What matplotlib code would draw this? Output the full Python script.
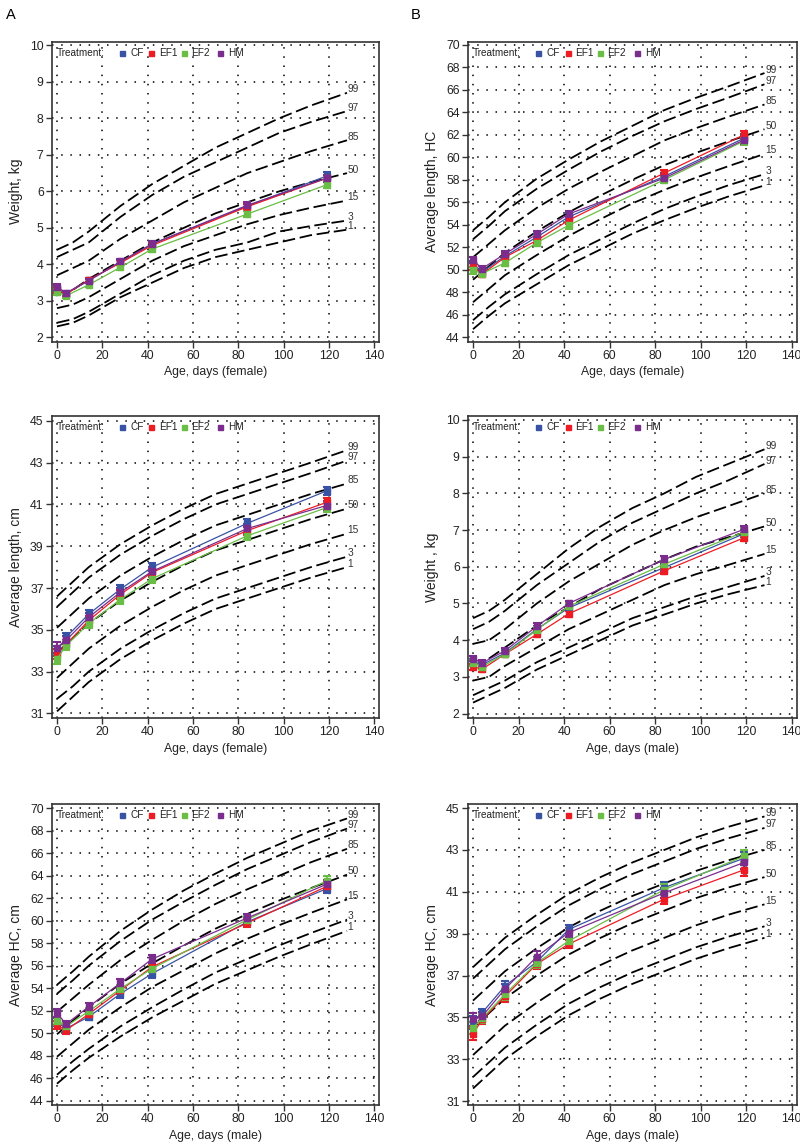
import matplotlib
matplotlib.use("Agg")
import matplotlib.pyplot as plt

plt.rcParams['font.family'] = ['Liberation Sans', 'DejaVu Sans']

# ---------------- data ----------------
days = [0, 4, 14, 28, 42, 84, 119]
treatments = ["CF", "EF1", "EF2", "HM"]
colors = {"CF": "#3953A4", "EF1": "#ED1C24", "EF2": "#6ABD45", "HM": "#7B2D8E"}

pct_ages = [0, 7, 14, 28, 42, 56, 70, 84, 98, 112, 128]
pct_labels = ["99", "97", "85", "50", "15", "3", "1"]

# Panel A1: weight, female
a1_CF = [3.33, 3.20, 3.56, 4.06, 4.56, 5.60, 6.42]
a1_EF1 = [3.30, 3.18, 3.58, 4.04, 4.52, 5.58, 6.36]
a1_EF2 = [3.24, 3.14, 3.44, 3.92, 4.42, 5.38, 6.18]
a1_HM = [3.38, 3.22, 3.55, 4.08, 4.56, 5.62, 6.36]
a1_err = [0.08, 0.06, 0.06, 0.07, 0.07, 0.08, 0.10]
a1_p99 = [4.4, 4.6, 4.9, 5.6, 6.2, 6.7, 7.2, 7.6, 8.0, 8.35, 8.7]
a1_p97 = [4.2, 4.4, 4.6, 5.3, 5.9, 6.4, 6.8, 7.2, 7.6, 7.9, 8.2]
a1_p85 = [3.7, 3.9, 4.1, 4.7, 5.2, 5.7, 6.1, 6.5, 6.8, 7.1, 7.4]
a1_p50 = [3.2, 3.3, 3.6, 4.1, 4.6, 5.0, 5.4, 5.7, 6.0, 6.25, 6.5]
a1_p15 = [2.8, 2.9, 3.1, 3.6, 4.1, 4.5, 4.8, 5.1, 5.35, 5.55, 5.75]
a1_p3 = [2.4, 2.5, 2.7, 3.2, 3.7, 4.1, 4.4, 4.6, 4.9, 5.05, 5.2]
a1_p1 = [2.3, 2.4, 2.6, 3.1, 3.5, 3.9, 4.2, 4.4, 4.6, 4.8, 4.95]

# Panel B1: length, female
b1_CF = [50.5, 49.8, 51.2, 52.9, 54.7, 58.3, 61.7]
b1_EF1 = [50.3, 49.6, 51.1, 52.6, 54.4, 58.6, 62.0]
b1_EF2 = [49.95, 49.65, 50.6, 52.4, 53.95, 58.0, 61.45]
b1_HM = [50.85, 50.1, 51.4, 53.15, 54.95, 58.15, 61.55]
b1_err = [0.3, 0.25, 0.25, 0.25, 0.3, 0.3, 0.35]
b1_p99 = [53.5, 54.7, 56.0, 58.1, 59.8, 61.4, 62.8, 64.2, 65.3, 66.3, 67.5]
b1_p97 = [52.7, 53.9, 55.2, 57.2, 58.9, 60.5, 61.9, 63.2, 64.3, 65.3, 66.5]
b1_p85 = [51.1, 52.3, 53.5, 55.5, 57.2, 58.7, 60.1, 61.5, 62.6, 63.6, 64.7]
b1_p50 = [49.1, 50.3, 51.5, 53.4, 55.1, 56.6, 58.0, 59.3, 60.4, 61.4, 62.5]
b1_p15 = [47.1, 48.3, 49.5, 51.3, 53.0, 54.5, 55.9, 57.1, 58.2, 59.2, 60.3]
b1_p3 = [45.5, 46.7, 47.8, 49.6, 51.3, 52.7, 54.1, 55.4, 56.5, 57.5, 58.5]
b1_p1 = [44.7, 45.9, 47.0, 48.7, 50.4, 51.8, 53.2, 54.4, 55.5, 56.5, 57.5]

# Panel A2: head circumference scale, female
a2_CF = [34.0, 34.65, 35.75, 36.95, 38.0, 40.1, 41.65]
a2_EF1 = [33.85, 34.3, 35.45, 36.7, 37.75, 39.75, 41.1]
a2_EF2 = [33.6, 34.25, 35.3, 36.45, 37.45, 39.5, 40.85]
a2_HM = [34.15, 34.5, 35.6, 36.8, 37.8, 39.85, 40.95]
a2_err = [0.25, 0.2, 0.2, 0.2, 0.2, 0.2, 0.2]
a2_p99 = [36.6, 37.3, 38.0, 39.1, 40.0, 40.8, 41.5, 42.0, 42.5, 43.0, 43.6]
a2_p97 = [36.1, 36.8, 37.5, 38.6, 39.5, 40.3, 41.0, 41.5, 42.0, 42.5, 43.1]
a2_p85 = [35.1, 35.8, 36.5, 37.6, 38.5, 39.3, 40.0, 40.5, 41.0, 41.5, 42.0]
a2_p50 = [33.9, 34.6, 35.3, 36.4, 37.3, 38.1, 38.8, 39.3, 39.8, 40.3, 40.8]
a2_p15 = [32.7, 33.4, 34.1, 35.2, 36.1, 36.9, 37.6, 38.1, 38.6, 39.1, 39.6]
a2_p3 = [31.7, 32.3, 33.0, 34.1, 35.0, 35.8, 36.5, 37.0, 37.5, 38.0, 38.5]
a2_p1 = [31.1, 31.8, 32.5, 33.6, 34.5, 35.3, 36.0, 36.5, 37.0, 37.5, 38.0]

# Panel B2: weight, male
b2_CF = [3.40, 3.33, 3.65, 4.30, 4.88, 5.98, 6.90]
b2_EF1 = [3.28, 3.21, 3.62, 4.16, 4.72, 5.89, 6.79]
b2_EF2 = [3.39, 3.28, 3.62, 4.28, 4.92, 6.07, 6.95]
b2_HM = [3.50, 3.38, 3.71, 4.38, 5.00, 6.20, 7.02]
b2_err = [0.08, 0.07, 0.07, 0.08, 0.08, 0.10, 0.10]
b2_p99 = [4.6, 4.8, 5.1, 5.8, 6.5, 7.1, 7.6, 8.0, 8.45, 8.8, 9.2]
b2_p97 = [4.3, 4.5, 4.8, 5.5, 6.1, 6.7, 7.2, 7.6, 8.0, 8.35, 8.8]
b2_p85 = [3.9, 4.0, 4.3, 5.0, 5.6, 6.1, 6.6, 7.0, 7.35, 7.65, 8.0]
b2_p50 = [3.3, 3.5, 3.8, 4.4, 4.9, 5.4, 5.8, 6.2, 6.55, 6.8, 7.1]
b2_p15 = [2.9, 3.0, 3.3, 3.8, 4.3, 4.7, 5.1, 5.5, 5.8, 6.05, 6.35]
b2_p3 = [2.5, 2.7, 2.9, 3.4, 3.8, 4.2, 4.6, 4.9, 5.2, 5.45, 5.75]
b2_p1 = [2.3, 2.5, 2.7, 3.2, 3.6, 4.0, 4.4, 4.7, 5.0, 5.25, 5.5]

# Panel A3: 44-70 scale, male
a3_CF = [51.0, 50.4, 51.45, 53.5, 55.3, 59.9, 62.85]
a3_EF1 = [50.7, 50.25, 51.7, 53.8, 55.9, 59.8, 63.05]
a3_EF2 = [51.1, 50.6, 51.95, 53.95, 55.75, 60.1, 63.55]
a3_HM = [51.8, 50.8, 52.35, 54.45, 56.6, 60.25, 63.25]
a3_err = [0.35, 0.3, 0.3, 0.35, 0.35, 0.35, 0.4]
a3_p99 = [54.3, 55.5, 56.8, 59.1, 61.0, 62.7, 64.2, 65.6, 66.8, 68.0, 69.1]
a3_p97 = [53.5, 54.7, 56.0, 58.2, 60.1, 61.7, 63.2, 64.6, 65.8, 67.0, 68.2]
a3_p85 = [51.9, 53.1, 54.3, 56.5, 58.3, 60.0, 61.5, 62.8, 64.0, 65.2, 66.4]
a3_p50 = [49.9, 51.1, 52.3, 54.4, 56.2, 57.8, 59.3, 60.6, 61.8, 62.9, 64.1]
a3_p15 = [47.9, 49.1, 50.3, 52.3, 54.1, 55.6, 57.1, 58.4, 59.6, 60.7, 61.9]
a3_p3 = [46.3, 47.5, 48.6, 50.6, 52.3, 53.9, 55.4, 56.6, 57.8, 58.9, 60.1]
a3_p1 = [45.5, 46.7, 47.8, 49.7, 51.4, 52.9, 54.4, 55.6, 56.8, 57.9, 59.1]

# Panel B3: HC, male
b3_CF = [34.75, 35.22, 36.5, 37.65, 39.2, 41.2, 42.6]
b3_EF1 = [34.2, 34.9, 36.0, 37.55, 38.5, 40.65, 42.05]
b3_EF2 = [34.5, 34.95, 36.1, 37.6, 38.65, 41.1, 42.7]
b3_HM = [34.9, 35.05, 36.35, 37.9, 39.05, 40.95, 42.4]
b3_err = [0.3, 0.2, 0.25, 0.25, 0.2, 0.25, 0.3]
b3_p99 = [37.4, 38.1, 38.8, 39.9, 40.9, 41.7, 42.4, 43.0, 43.6, 44.1, 44.6]
b3_p97 = [36.85, 37.55, 38.25, 39.35, 40.35, 41.15, 41.85, 42.45, 43.05, 43.55, 44.05]
b3_p85 = [35.8, 36.5, 37.2, 38.3, 39.3, 40.1, 40.8, 41.4, 42.0, 42.5, 43.0]
b3_p50 = [34.5, 35.2, 35.9, 37.0, 38.0, 38.8, 39.5, 40.1, 40.7, 41.2, 41.7]
b3_p15 = [33.2, 33.9, 34.6, 35.7, 36.7, 37.5, 38.2, 38.8, 39.4, 39.9, 40.4]
b3_p3 = [32.15, 32.85, 33.55, 34.65, 35.65, 36.45, 37.15, 37.75, 38.35, 38.85, 39.35]
b3_p1 = [31.6, 32.3, 33.0, 34.1, 35.1, 35.9, 36.6, 37.2, 37.8, 38.3, 38.8]

panels = [
    dict(pos=[0.065, 0.701, 0.409, 0.2625], ylim=(1.88, 10.1), yticks=range(2, 11, 1),
         ylabel="Weight, kg", xlabel="Age, days (female)",
         series=[a1_CF, a1_EF1, a1_EF2, a1_HM], err=a1_err,
         pcts=[a1_p99, a1_p97, a1_p85, a1_p50, a1_p15, a1_p3, a1_p1]),
    dict(pos=[0.585, 0.701, 0.411, 0.2625], ylim=(43.58, 70.29), yticks=range(44, 71, 2),
         ylabel="Average length, HC", xlabel="Age, days (female)",
         series=[b1_CF, b1_EF1, b1_EF2, b1_HM], err=b1_err,
         pcts=[b1_p99, b1_p97, b1_p85, b1_p50, b1_p15, b1_p3, b1_p1]),
    dict(pos=[0.065, 0.3718, 0.409, 0.264], ylim=(30.78, 45.22), yticks=range(31, 46, 2),
         ylabel="Average length, cm", xlabel="Age, days (female)",
         series=[a2_CF, a2_EF1, a2_EF2, a2_HM], err=a2_err,
         pcts=[a2_p99, a2_p97, a2_p85, a2_p50, a2_p15, a2_p3, a2_p1]),
    dict(pos=[0.585, 0.3718, 0.411, 0.264], ylim=(1.88, 10.1), yticks=range(2, 11, 1),
         ylabel="Weight , kg", xlabel="Age, days (male)",
         series=[b2_CF, b2_EF1, b2_EF2, b2_HM], err=b2_err,
         pcts=[b2_p99, b2_p97, b2_p85, b2_p50, b2_p15, b2_p3, b2_p1]),
    dict(pos=[0.065, 0.0332, 0.409, 0.2633], ylim=(43.6, 70.38), yticks=range(44, 71, 2),
         ylabel="Average HC, cm", xlabel="Age, days (male)",
         series=[a3_CF, a3_EF1, a3_EF2, a3_HM], err=a3_err,
         pcts=[a3_p99, a3_p97, a3_p85, a3_p50, a3_p15, a3_p3, a3_p1]),
    dict(pos=[0.585, 0.0332, 0.411, 0.2633], ylim=(30.81, 45.19), yticks=range(31, 46, 2),
         ylabel="Average HC, cm", xlabel="Age, days (male)",
         series=[b3_CF, b3_EF1, b3_EF2, b3_HM], err=b3_err,
         pcts=[b3_p99, b3_p97, b3_p85, b3_p50, b3_p15, b3_p3, b3_p1]),
]

fig = plt.figure(figsize=(8, 11.43), dpi=100)
fig.patch.set_facecolor("white")
spine_c = "#333333"

for p in panels:
    ax = fig.add_axes(p["pos"])
    ax.set_xlim(-2.2, 142.2)
    ax.set_ylim(*p["ylim"])
    ax.set_xticks(range(0, 141, 20))
    ax.set_yticks(list(p["yticks"]))
    ax.grid(True, color="black", linestyle=(0, (1, 5)), linewidth=1.1)
    ax.set_axisbelow(True)
    for s in ax.spines.values():
        s.set_color(spine_c)
        s.set_linewidth(1.2)
    ax.tick_params(axis="both", direction="out", length=4, width=1, color=spine_c,
                   labelsize=8.8, labelcolor="#222222", pad=2)
    ax.set_ylabel(p["ylabel"], fontsize=10, color="#222222", labelpad=5)
    ax.set_xlabel(p["xlabel"], fontsize=8.8, color="#222222", labelpad=3)

    # percentile reference curves
    for lab, vals in zip(pct_labels, p["pcts"]):
        ax.plot(pct_ages, vals, color="black", linestyle=(0, (7, 2.6)), linewidth=1.3, zorder=2)
        ax.annotate(lab, xy=(pct_ages[-1], vals[-1]), xytext=(0.5, 2.5),
                    textcoords="offset points", fontsize=7.3, va="center", ha="left",
                    color="#333333", zorder=3)

    # treatment means with error bars
    for t, vals in zip(treatments, p["series"]):
        ax.errorbar(days, vals, yerr=p["err"], color=colors[t], marker="s", markersize=3.8,
                    linewidth=0.9, elinewidth=1.3, capsize=2.6, capthick=1.5, zorder=4)

    # legend-like header
    ax.text(0.014, 0.963, "Treatment:", transform=ax.transAxes, fontsize=7.2,
            va="center", ha="left", color="#222222")
    sq_x = [0.213, 0.303, 0.402, 0.513]
    tx_x = [0.239, 0.327, 0.424, 0.538]
    for t, sx, tx in zip(treatments, sq_x, tx_x):
        ax.plot([sx], [0.963], marker="s", markersize=3.6, color=colors[t],
                transform=ax.transAxes, linestyle="none")
        ax.text(tx, 0.963, t, transform=ax.transAxes, fontsize=7.2,
                va="center", ha="left", color="#222222")

fig.text(0.008, 0.993, "A", fontsize=10.5, va="top", ha="left")
fig.text(0.513, 0.993, "B", fontsize=10.5, va="top", ha="left")

fig.savefig("out.png", dpi=100)
